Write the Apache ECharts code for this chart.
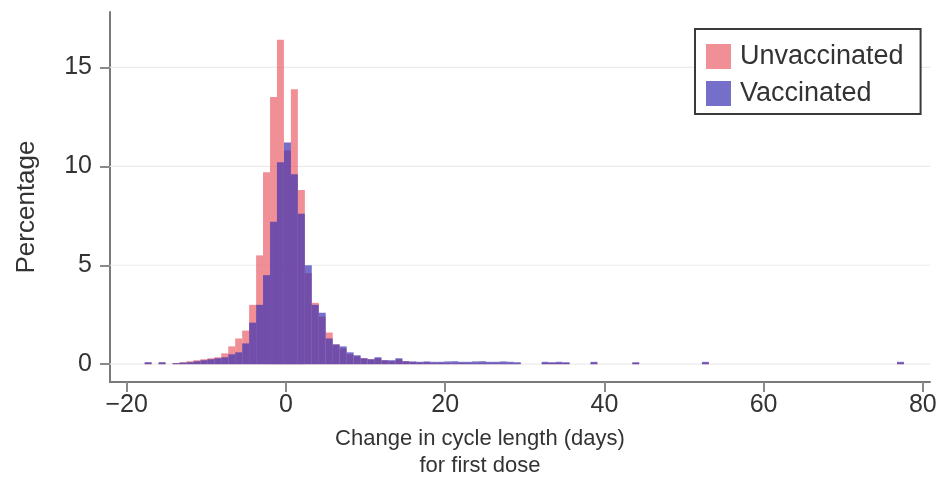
<!DOCTYPE html>
<html>
<head>
<meta charset="utf-8">
<script src="https://cdn.jsdelivr.net/npm/echarts@6/dist/echarts.min.js"></script>
<style>
  html, body { margin: 0; padding: 0; background: #fff; }
  #chart { width: 943px; height: 502px; }
</style>
</head>
<body>
<div id="chart"></div>
<script>
// ---- data (bin centres in days, percentages) ----
const BIN_WIDTH = 0.875;
const binCenters = [
  -17.31, -15.56, -13.81, -12.94, -12.06, -11.19, -10.31, -9.44, -8.56, -7.69,
  -6.81, -5.94, -5.06, -4.19, -3.31, -2.44, -1.56, -0.69, 0.19, 1.06,
  1.94, 2.81, 3.69, 4.56, 5.44, 6.31, 7.19, 8.06, 8.94, 9.81,
  10.69, 11.56, 12.44, 13.31, 14.19, 15.06, 15.94, 16.81, 17.69, 18.56,
  19.44, 20.31, 21.19, 22.06, 22.94, 23.81, 24.69, 25.56, 26.44, 27.31,
  28.19, 29.06, 32.56, 33.44, 34.31, 35.19, 38.69, 43.94, 52.69, 77.19
];
const unvaccinated = [
  0.08, 0.08, 0.06, 0.10, 0.15, 0.20, 0.25, 0.30, 0.35, 0.55,
  0.90, 1.30, 1.70, 3.00, 5.50, 9.70, 13.50, 16.40, 10.80, 13.90,
  8.80, 4.60, 3.10, 2.40, 1.60, 1.00, 0.80, 0.50, 0.40, 0.30,
  0.25, 0.30, 0.20, 0.15, 0.25, 0.15, 0.10, 0.08, 0.10, 0.05,
  0.06, 0.05, 0.04, 0.05, 0.04, 0.03, 0.05, 0.04, 0.03, 0.04,
  0.03, 0.03, 0.06, 0.06, 0.06, 0.06, 0.06, 0.06, 0.06, 0.06
];
const vaccinated = [
  0.10, 0.10, 0.05, 0.08, 0.10, 0.15, 0.20, 0.25, 0.30, 0.35,
  0.50, 0.60, 1.05, 2.10, 3.00, 4.50, 7.20, 10.20, 11.20, 9.60,
  7.60, 5.00, 3.00, 2.60, 1.30, 1.00, 0.90, 0.60, 0.45, 0.30,
  0.25, 0.35, 0.20, 0.20, 0.30, 0.15, 0.14, 0.12, 0.14, 0.12,
  0.12, 0.14, 0.15, 0.12, 0.12, 0.14, 0.15, 0.12, 0.12, 0.14,
  0.12, 0.10, 0.12, 0.10, 0.12, 0.10, 0.12, 0.10, 0.12, 0.12
];
const seriesNames = ['Unvaccinated', 'Vaccinated'];
const xTicks = [-20, 0, 20, 40, 60, 80];
const yTicks = [0, 5, 10, 15];
const xTitleLines = ['Change in cycle length (days)', 'for first dose'];
const yTitle = 'Percentage';

// ---- chart ----
const X_MIN = -22.1, X_MAX = 80.9, Y_MIN = -0.9, Y_MAX = 17.8;
const FONT = '"Liberation Sans", Arial, Helvetica, sans-serif';
const minus = v => String(v).replace('-', '\u2212');

function barItem(params, api) {
  const c = api.value(0), v = api.value(1);
  const p0 = api.coord([c - BIN_WIDTH / 2, v]);
  const p1 = api.coord([c + BIN_WIDTH / 2, 0]);
  return {
    type: 'rect',
    shape: { x: p0[0], y: p0[1], width: p1[0] - p0[0], height: p1[1] - p0[1] },
    style: api.style()
  };
}
function gridItem(params, api) {
  const v = api.value(0);
  const a = api.coord([X_MIN, v]);
  const b = api.coord([X_MAX, v]);
  return {
    type: 'line',
    shape: { x1: a[0], y1: a[1], x2: b[0], y2: b[1] },
    style: { stroke: '#ebebeb', lineWidth: 1.2 }
  };
}

const chart = echarts.init(document.getElementById('chart'), null, { renderer: 'canvas' });
chart.setOption({
  animation: false,
  backgroundColor: '#ffffff',
  textStyle: { fontFamily: FONT },
  grid: { left: 110, right: 13, top: 12, bottom: 120, containLabel: false },
  legend: {
    data: seriesNames,
    orient: 'vertical',
    left: 695, top: 29,
    padding: [14, 17, 7, 11],
    itemGap: 10,
    itemWidth: 25, itemHeight: 25,
    icon: 'rect',
    borderColor: '#3a3a3a', borderWidth: 2, borderRadius: 0,
    backgroundColor: '#ffffff',
    textStyle: { fontSize: 27, color: '#333', fontFamily: FONT, padding: [0, 0, 0, 4] },
    selectedMode: false
  },
  xAxis: {
    type: 'value', min: X_MIN, max: X_MAX,
    axisLine: { show: true, onZero: false, lineStyle: { color: '#7a7a7a', width: 2 } },
    axisTick: { show: true, customValues: xTicks, length: 10, lineStyle: { color: '#8a8a8a', width: 2 } },
    axisLabel: { customValues: xTicks, fontSize: 25, color: '#333', margin: 11, formatter: minus, fontFamily: FONT },
    splitLine: { show: false }
  },
  yAxis: {
    type: 'value', min: Y_MIN, max: Y_MAX,
    axisLine: { show: true, onZero: false, lineStyle: { color: '#7a7a7a', width: 2 } },
    axisTick: { show: true, customValues: yTicks, length: 10, lineStyle: { color: '#8a8a8a', width: 2 } },
    axisLabel: { customValues: yTicks, fontSize: 25, color: '#333', margin: 18, fontFamily: FONT },
    splitLine: { show: false }
  },
  graphic: [
    { type: 'text', left: 480 - 160, top: 425, z: 10,
      style: { text: xTitleLines.join('\n'), font: '22px ' + FONT, fill: '#333', textAlign: 'center', lineHeight: 27, width: 320 } },
    { type: 'text', rotation: Math.PI / 2, x: 27, y: 207, z: 10,
      style: { text: yTitle, font: '26px ' + FONT, fill: '#333', textAlign: 'center', textVerticalAlign: 'middle' } }
  ],
  series: [
    {
      type: 'custom', name: 'grid', z: 1, silent: true,
      renderItem: gridItem, data: yTicks.map(v => [v]), encode: { y: 0 }
    },
    {
      type: 'custom', name: seriesNames[0], z: 2,
      renderItem: barItem,
      itemStyle: { color: 'rgba(235,95,105,0.7)' },
      encode: { x: 0, y: 1 },
      data: binCenters.map((c, i) => [c, unvaccinated[i]])
    },
    {
      type: 'custom', name: seriesNames[1], z: 3,
      renderItem: barItem,
      itemStyle: { color: 'rgba(60,50,180,0.7)' },
      encode: { x: 0, y: 1 },
      data: binCenters.map((c, i) => [c, vaccinated[i]])
    }
  ]
});
</script>
</body>
</html>
